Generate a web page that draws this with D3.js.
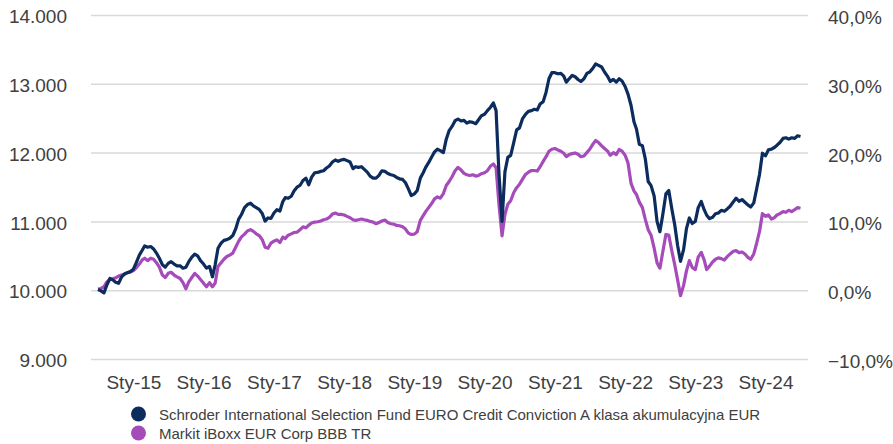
<!DOCTYPE html>
<html>
<head>
<meta charset="utf-8">
<script src="https://cdn.jsdelivr.net/npm/d3@7"></script>
<style>
  body { margin: 0; background: #fff; }
  svg { display: block; font-family: Arial, "Liberation Sans", sans-serif; }
  .axis text { fill: #404040; font-size: 19px; }
  .axis .domain { display: none; }
  .grid line { stroke: #d9d9d9; stroke-width: 1.5; }
  .legend text { fill: #404040; font-size: 15px; }
</style>
</head>
<body>
<div id="chart"></div>
<script>
// series names
const seriesNames = [
  "Schroder International Selection Fund EURO Credit Conviction A klasa akumulacyjna EUR",
  "Markit iBoxx EUR Corp BBB TR"
];
const seriesColors = ["#0b2c5d", "#a54bba"];

// first point 1 Jul 2014, then every half month (1st / 16th) up to 1 Jul 2024
const startDate = "2014-07-01";

const fundValues = [
  // 2014 (Jul-Dec)
  10010, 9990, 9960, 10075, 10170, 10150, 10115, 10100, 10195, 10235, 10255, 10270,
  // 2015
  10305, 10400, 10510, 10580, 10645, 10625, 10635, 10600, 10540, 10465, 10370, 10335,
  10390, 10415, 10380, 10355, 10355, 10320, 10335, 10415, 10480, 10525, 10500, 10430,
  // 2016
  10380, 10320, 10345, 10195, 10365, 10610, 10685, 10725, 10735, 10755, 10795, 10890,
  11030, 11100, 11200, 11245, 11265, 11225, 11200, 11175, 11115, 11005, 11050, 11043,
  // 2017
  11122, 11170, 11150, 11288, 11346, 11336, 11366, 11444, 11497, 11522, 11595, 11629,
  11532, 11644, 11707, 11712, 11727, 11736, 11776, 11805, 11863, 11893, 11873, 11893,
  // 2018
  11902, 11883, 11863, 11766, 11795, 11785, 11795, 11756, 11717, 11658, 11629, 11629,
  11668, 11736, 11727, 11697, 11678, 11668, 11639, 11619, 11610, 11561, 11473, 11375,
  // 2019
  11400, 11449, 11629, 11707, 11785, 11854, 11937, 12010, 12049, 12029, 12000, 12195,
  12320, 12380, 12463, 12488, 12459, 12468, 12429, 12449, 12439, 12420, 12478, 12537,
  // 2020
  12556, 12610, 12659, 12722, 12610, 11700, 11000, 11720, 11930, 11960, 12150, 12330,
  12360, 12490, 12556, 12600, 12610, 12630, 12620, 12707, 12741, 12878, 13073, 13161,
  // 2021
  13161, 13146, 13151, 13112, 13024, 13073, 13122, 13102, 13063, 13034, 13073, 13151,
  13171, 13220, 13288, 13268, 13244, 13171, 13112, 13034, 13063, 13024, 13073, 13040,
  // 2022
  12960, 12850, 12684, 12450, 12342, 12120, 12100, 11910, 11580, 11520, 11370, 11000,
  10850, 11100, 11400, 11450, 11180, 10950, 10650, 10420, 10590, 10895, 11050, 10970,
  // 2023
  11000, 11200, 11290, 11170, 11090, 11040, 11060, 11110, 11122, 11161, 11147, 11181,
  11220, 11279, 11337, 11293, 11318, 11279, 11240, 11210, 11269, 11474, 11684, 11991,
  // 2024 (Jan-Jul)
  11952, 12040, 12050, 12074, 12108, 12147, 12206, 12216, 12196, 12216, 12206, 12245, 12235
];

const benchValues = [
  // 2014 (Jul-Dec)
  10015, 10025, 10050, 10120, 10155, 10165, 10180, 10205, 10220, 10235, 10255, 10265,
  // 2015
  10285, 10325, 10380, 10440, 10465, 10430, 10465, 10450, 10400, 10335, 10220, 10185,
  10245, 10260, 10220, 10195, 10170, 10110, 10020, 10120, 10185, 10245, 10205, 10155,
  // 2016
  10100, 10050, 10110, 10050, 10100, 10345, 10400, 10450, 10490, 10510, 10540, 10625,
  10710, 10775, 10815, 10860, 10880, 10855, 10820, 10795, 10735, 10625, 10610, 10683,
  // 2017
  10712, 10732, 10693, 10771, 10751, 10800, 10819, 10839, 10844, 10878, 10922, 10907,
  10946, 10976, 10990, 10995, 11005, 11024, 11034, 11059, 11107, 11122, 11102, 11102,
  // 2018
  11093, 11073, 11054, 11024, 11015, 11024, 11034, 11024, 11015, 11000, 10990, 10966,
  10985, 11005, 11020, 10985, 10966, 10961, 10941, 10937, 10922, 10888, 10829, 10810,
  // 2019
  10815, 10849, 11015, 11083, 11142, 11200, 11259, 11327, 11356, 11337, 11405, 11522,
  11580, 11649, 11737, 11785, 11746, 11698, 11678, 11668, 11678, 11659, 11668, 11693,
  // 2020
  11707, 11737, 11805, 11834, 11780, 11250, 10790, 11100, 11250, 11300, 11420, 11490,
  11540, 11610, 11683, 11715, 11740, 11740, 11732, 11795, 11873, 11941, 12019, 12049,
  // 2021
  12059, 12039, 12019, 11990, 11941, 11971, 11985, 11995, 11976, 11941, 11951, 12000,
  12049, 12117, 12176, 12146, 12097, 12059, 12024, 11961, 12000, 11971, 12045, 12022,
  // 2022
  11962, 11850, 11552, 11444, 11391, 11280, 11200, 11030, 10880, 10800, 10610, 10400,
  10320, 10560, 10810, 10800, 10570, 10370, 10150, 9920, 10070, 10280, 10430, 10330,
  // 2023
  10300, 10480, 10550, 10440, 10300, 10350, 10410, 10450, 10470, 10459, 10439, 10488,
  10527, 10561, 10576, 10547, 10556, 10527, 10478, 10449, 10527, 10683, 10854, 11113,
  // 2024 (Jan-Jul)
  11074, 11093, 11035, 11054, 11093, 11113, 11142, 11132, 11162, 11142, 11171, 11200, 11191
];

const leftTicks = [9000, 10000, 11000, 12000, 13000, 14000];
const rightTicks = [-0.1, 0, 0.1, 0.2, 0.3, 0.4];
const yearTicks = ["2015-01-01", "2016-01-01", "2017-01-01", "2018-01-01", "2019-01-01",
                   "2020-01-01", "2021-01-01", "2022-01-01", "2023-01-01", "2024-01-01"];
const yearLabels = ["Sty-15", "Sty-16", "Sty-17", "Sty-18", "Sty-19",
                    "Sty-20", "Sty-21", "Sty-22", "Sty-23", "Sty-24"];

const width = 893, height = 444;
const plot = {left: 91, right: 808, top: 15, bottom: 359};

const pl = d3.formatLocale({decimal: ",", thousands: ".", grouping: [3], currency: ["", " zł"]});

const parse = d3.timeParse("%Y-%m-%d");
const start = parse(startDate);
const dates = fundValues.map((v, i) => {
  const m = d3.timeMonth.offset(start, Math.floor(i / 2));
  return i % 2 ? d3.timeDay.offset(m, 15) : m;
});

const svg = d3.select("#chart")
    .append("svg")
    .attr("width", width)
    .attr("height", height);

const x = d3.scaleTime()
    .domain([start, dates[dates.length - 1]])
    .range([98, 800.5]);
const y = d3.scaleLinear()
    .domain([9000, 14000])
    .range([plot.bottom, plot.top]);
const yRight = d3.scaleLinear()
    .domain([-0.1, 0.4])
    .range([plot.bottom, plot.top]);

// left axis with gridlines
svg.append("g")
    .attr("class", "axis grid")
    .attr("transform", `translate(${plot.left},0)`)
    .call(d3.axisLeft(y)
        .tickValues(leftTicks)
        .tickSize(-(plot.right - plot.left))
        .tickPadding(24)
        .tickFormat(pl.format(",")))
    .selectAll("text")
    .attr("dy", "0.4em");

svg.append("g")
    .attr("class", "axis")
    .attr("transform", `translate(${plot.right},0)`)
    .call(d3.axisRight(yRight)
        .tickValues(rightTicks)
        .tickSize(0)
        .tickPadding(20)
        .tickFormat(pl.format(".1%")))
    .selectAll("text")
    .attr("dy", "0.45em");

svg.append("g")
    .attr("class", "axis")
    .attr("transform", `translate(0,${plot.bottom})`)
    .call(d3.axisBottom(x)
        .tickValues(yearTicks.map(parse))
        .tickSize(0)
        .tickPadding(16.5)
        .tickFormat((d, i) => yearLabels[i]));

const line = d3.line()
    .x((d, i) => x(dates[i]))
    .y(d => y(d));

// benchmark first, fund on top
[benchValues, fundValues].forEach((vals, k) => {
  svg.append("path")
      .datum(vals)
      .attr("fill", "none")
      .attr("stroke", seriesColors[1 - k])
      .attr("stroke-width", 3.2)
      .attr("stroke-linejoin", "round")
      .attr("d", line);
});

const legend = svg.append("g")
    .attr("class", "legend")
    .attr("transform", "translate(138.5,414)");

seriesNames.forEach((name, i) => {
  const g = legend.append("g").attr("transform", `translate(0,${i * 19})`);
  g.append("circle")
      .attr("r", 7.5)
      .attr("fill", seriesColors[i]);
  g.append("text")
      .attr("x", 20.5)
      .attr("y", 5.5)
      .text(name);
});
</script>
</body>
</html>
